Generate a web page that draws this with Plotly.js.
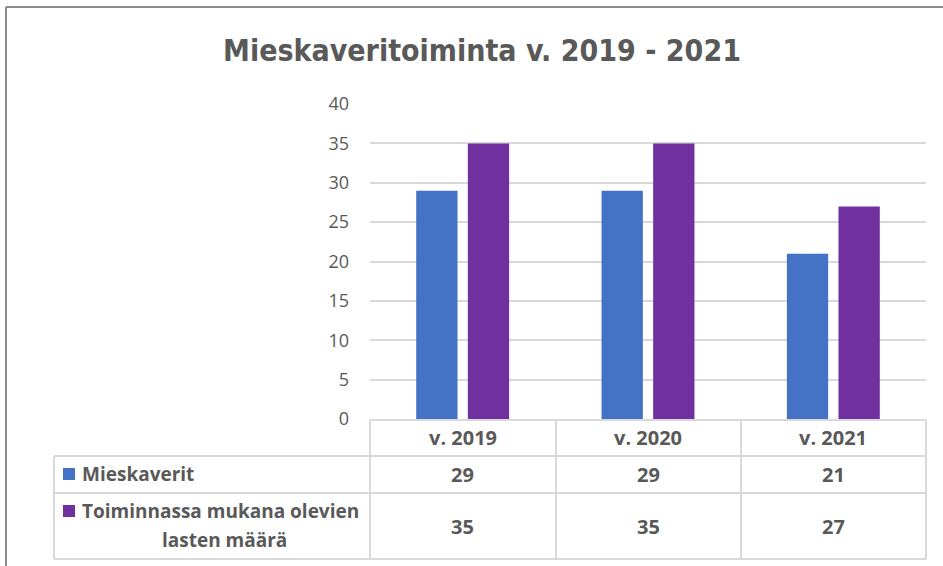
<!DOCTYPE html>
<html>
<head>
<meta charset="utf-8">
<script src="https://cdn.plot.ly/plotly-3.0.1.min.js"></script>
<style>html,body{margin:0;padding:0;background:#fff;}#chart{width:943px;height:566px;}</style>
</head>
<body>
<div id="chart"></div>
<script>
const categories = ['v. 2019', 'v. 2020', 'v. 2021'];
const seriesNames = ['Mieskaverit', 'Toiminnassa mukana olevien lasten määrä'];
const mieskaverit = [29, 29, 21];
const lapset = [35, 35, 27];
const titleText = 'Mieskaveritoiminta v. 2019 - 2021';

const W = 943, H = 566;
const px = x => x / W;
const py = y => 1 - y / H;
const GREY = '#595959';
const LINE = '#d9d9d9';
const COLORS = ['#4472C4', '#7030A0'];
const TFONT = 'Open Sans, DejaVu Sans, sans-serif';

const traces = [
  {type: 'bar', name: seriesNames[0], x: categories, y: mieskaverit, marker: {color: COLORS[0]}},
  {type: 'bar', name: seriesNames[1], x: categories, y: lapset, marker: {color: COLORS[1]}}
];

const shapes = [];
const annotations = [];
function hline(x0, x1, y, color, w) { shapes.push({type:'line', xref:'paper', yref:'paper', x0:px(x0), x1:px(x1), y0:py(y), y1:py(y), line:{color:color, width:w}}); }
function vline(x, y0, y1, color, w) { shapes.push({type:'line', xref:'paper', yref:'paper', x0:px(x), x1:px(x), y0:py(y0), y1:py(y1), line:{color:color, width:w}}); }

// outer chart border
hline(6, 950, 7, '#8c8c8c', 2);
vline(6, 7, 570, '#8c8c8c', 2);

// data table grid
const colX = [370, 556, 741, 926];
hline(370, 926, 420, LINE, 2);
hline(54, 926, 456, LINE, 2);
hline(54, 926, 493, LINE, 2);
hline(54, 926, 559, LINE, 2);
vline(54, 456, 559, LINE, 2);
colX.forEach(x => vline(x, 420, 559, LINE, 2));

// legend keys
shapes.push({type:'rect', xref:'paper', yref:'paper', x0:px(63), x1:px(75), y0:py(468), y1:py(480), fillcolor:COLORS[0], line:{width:0}});
shapes.push({type:'rect', xref:'paper', yref:'paper', x0:px(63), x1:px(75), y0:py(505), y1:py(517), fillcolor:COLORS[1], line:{width:0}});

function txt(text, x, xref, y, size, xanchor) {
  annotations.push({text:text, x:x, xref:xref, y:py(y), yref:'paper', xanchor:xanchor || 'center', yanchor:'middle', showarrow:false,
    font:{family:TFONT, size:size, color:GREY, weight:'bold'}});
}
categories.forEach((c, i) => {
  txt(c, c, 'x', 438, 20);
  txt(String(mieskaverit[i]), c, 'x', 474, 20);
  txt(String(lapset[i]), c, 'x', 526, 20);
});
txt(seriesNames[0], px(80), 'paper', 474, 19, 'left');
const words = seriesNames[1].split(' ');
txt(words.slice(0, 3).join(' '), px(80), 'paper', 511, 19, 'left');
txt(words.slice(3).join(' '), px(224), 'paper', 540, 19, 'center');

const layout = {
  width: W, height: H,
  margin: {l:0, r:0, t:0, b:0},
  paper_bgcolor: '#ffffff', plot_bgcolor: '#ffffff',
  showlegend: false,
  title: {text: titleText, x: 482/W, xanchor: 'center', y: py(50), yanchor: 'middle', yref: 'paper',
    font: {family: 'Liberation Sans Narrow, DejaVu Sans Condensed, sans-serif', size: 30, color: GREY, weight: 'bold'}},
  barmode: 'group', bargap: 0.443, bargroupgap: 0.2,
  xaxis: {domain: [370/W, 926/W], showticklabels: false, showgrid: false, zeroline: false, showline: false, ticks: ''},
  yaxis: {domain: [py(419), py(104)], range: [0, 40], dtick: 5, showgrid: true, gridcolor: LINE, gridwidth: 2,
    zeroline: false, showline: false, ticks: '', ticklabelstandoff: 20,
    tickfont: {family: 'Open Sans, DejaVu Sans, sans-serif', size: 18, color: GREY}},
  shapes: shapes, annotations: annotations
};
Plotly.newPlot('chart', traces, layout, {displayModeBar: false, staticPlot: true});
</script>
</body>
</html>
